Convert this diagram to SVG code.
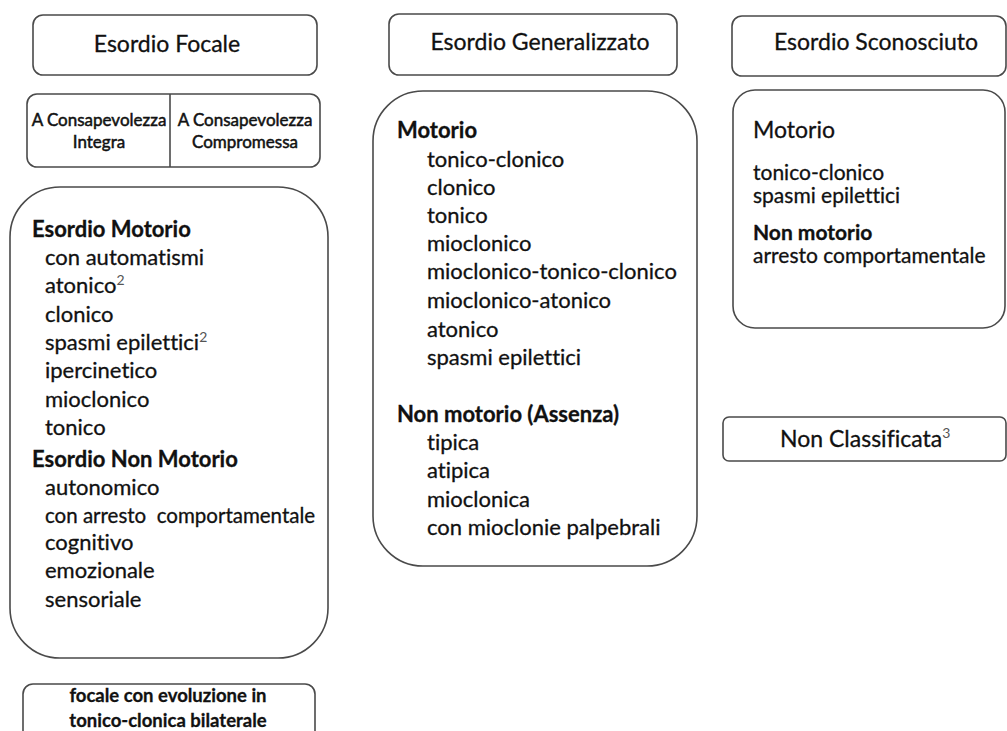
<svg xmlns="http://www.w3.org/2000/svg" width="1007" height="731" viewBox="0 0 1007 731">
<style>
.box{fill:#fff;stroke:#4a4a4a;stroke-width:1.6}
.t{font-family:Lato,"Open Sans","Liberation Sans",sans-serif;fill:#111;stroke:#111;stroke-width:0.3;font-variant-ligatures:none}
.hd{font-size:23px}
.it{font-size:22px}
.ir{font-size:21px}
.bh{font-size:22px;font-weight:bold}
.sm{font-size:17px;stroke-width:0.5}
.bt{font-size:18.5px;font-weight:bold}
.sup{font-size:14px;fill:#555;stroke:none}
</style>
<rect width="1007" height="731" fill="#fff"/>
<g id="connectors"></g>

<g id="esordio-focale">
<rect class="box" x="33" y="15" width="284" height="60" rx="10"/>
<text class="t hd" x="167" y="52" text-anchor="middle">Esordio Focale</text>
</g>

<g id="consapevolezza">
<rect class="box" x="27" y="94" width="293" height="73" rx="10"/>
<line x1="170" y1="94" x2="170" y2="167" stroke="#4a4a4a" stroke-width="1.6"/>
<text class="t sm" x="99" y="126" text-anchor="middle">A Consapevolezza</text>
<text class="t sm" x="99" y="148" text-anchor="middle">Integra</text>
<text class="t sm" x="245" y="126" text-anchor="middle">A Consapevolezza</text>
<text class="t sm" x="245" y="148" text-anchor="middle">Compromessa</text>
</g>

<g id="focale-list">
<rect class="box" x="10" y="187" width="318" height="471" rx="50"/>
<text class="t bh" x="32" y="237">Esordio Motorio</text>
<text class="t it" x="45" y="265">con automatismi</text>
<text class="t it" x="45" y="293">atonico<tspan class="sup" dy="-8">2</tspan></text>
<text class="t it" x="45" y="322">clonico</text>
<text class="t it" x="45" y="350">spasmi epilettici<tspan class="sup" dy="-8">2</tspan></text>
<text class="t it" x="45" y="378">ipercinetico</text>
<text class="t it" x="45" y="407">mioclonico</text>
<text class="t it" x="45" y="435">tonico</text>
<text class="t bh" x="32" y="467">Esordio Non Motorio</text>
<text class="t it" x="45" y="495">autonomico</text>
<text class="t it" x="45" y="523" style="font-size:20.5px" xml:space="preserve">con arresto  comportamentale</text>
<text class="t it" x="45" y="550">cognitivo</text>
<text class="t it" x="45" y="578">emozionale</text>
<text class="t it" x="45" y="607">sensoriale</text>
</g>

<g id="focale-bilaterale">
<rect class="box" x="23" y="684" width="292" height="62" rx="10"/>
<text class="t bt" x="168" y="702" text-anchor="middle">focale con evoluzione in</text>
<text class="t bt" x="168" y="727" text-anchor="middle">tonico-clonica bilaterale</text>
</g>

<g id="esordio-generalizzato">
<rect class="box" x="389" y="14" width="288" height="61" rx="10"/>
<text class="t hd" x="540" y="50" text-anchor="middle">Esordio Generalizzato</text>
</g>

<g id="generalizzato-list">
<rect class="box" x="373" y="91" width="324" height="475" rx="50"/>
<text class="t bh" x="397" y="138">Motorio</text>
<text class="t it" x="427" y="167">tonico-clonico</text>
<text class="t it" x="427" y="195">clonico</text>
<text class="t it" x="427" y="223">tonico</text>
<text class="t it" x="427" y="251">mioclonico</text>
<text class="t it" x="427" y="279">mioclonico-tonico-clonico</text>
<text class="t it" x="427" y="308">mioclonico-atonico</text>
<text class="t it" x="427" y="337">atonico</text>
<text class="t it" x="427" y="365">spasmi epilettici</text>
<text class="t bh" x="397" y="422">Non motorio (Assenza)</text>
<text class="t it" x="427" y="450">tipica</text>
<text class="t it" x="427" y="478">atipica</text>
<text class="t it" x="427" y="507">mioclonica</text>
<text class="t it" x="427" y="535">con mioclonie palpebrali</text>
</g>

<g id="esordio-sconosciuto">
<rect class="box" x="732" y="16" width="274" height="60" rx="10"/>
<text class="t hd" x="876" y="50" text-anchor="middle">Esordio Sconosciuto</text>
</g>

<g id="sconosciuto-list">
<rect class="box" x="733" y="90" width="272" height="238" rx="22"/>
<text class="t" x="753" y="138" style="font-size:23px">Motorio</text>
<text class="t ir" x="753" y="180">tonico-clonico</text>
<text class="t ir" x="753" y="203">spasmi epilettici</text>
<text class="t bh" x="753" y="240" style="font-size:21px">Non motorio</text>
<text class="t ir" x="753" y="263">arresto comportamentale</text>
</g>

<g id="non-classificata">
<rect class="box" x="723" y="417" width="283" height="44" rx="6"/>
<text class="t hd" x="780" y="447">Non Classificata<tspan class="sup" dy="-9">3</tspan></text>
</g>
</svg>
